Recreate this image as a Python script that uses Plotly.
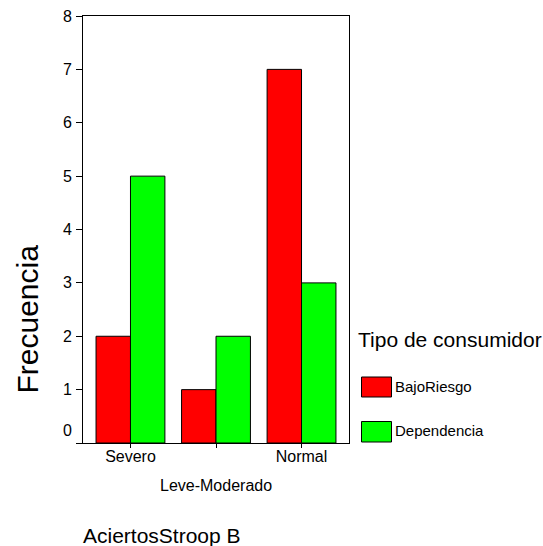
import plotly.graph_objects as go

categories = ["Severo", "Leve-Moderado", "Normal"]
series_names = ["BajoRiesgo", "Dependencia"]
bajo_riesgo = [2, 1, 7]
dependencia = [5, 2, 3]
y_ticks = [0, 1, 2, 3, 4, 5, 6, 7, 8]
colors = ["#FF0000", "#00FF00"]

FONT = "Liberation Sans, Arial, sans-serif"
W, H = 543, 546

# plot area in pixels
PX0, PX1, PY0, PY1 = 83, 349, 16, 443


def px(wx):
    return (wx - PX0) / (PX1 - PX0)


def py(wy):
    return (PY1 - wy) / (PY1 - PY0)


fig = go.Figure()
for name, vals, col in zip(series_names, [bajo_riesgo, dependencia], colors):
    fig.add_trace(go.Bar(
        x=list(range(len(categories))), y=vals, name=name,
        marker=dict(color=col, line=dict(color="black", width=1)),
        showlegend=False,
    ))

# staggered x tick labels: odd-index labels drawn lower
ticktext = [c if i % 2 == 0 else "" for i, c in enumerate(categories)]
for i, c in enumerate(categories):
    if i % 2 == 1:
        fig.add_annotation(x=i, y=py(485), xref="x", yref="paper", text=c, showarrow=False,
                           yanchor="middle", font=dict(size=16))

# y tick labels; the 0 label is lifted off the x axis
yticktext = ["" if v == 0 else str(v) for v in y_ticks]
fig.add_annotation(x=px(74), y=py(430), xref="paper", yref="paper", text=str(y_ticks[0]),
                   showarrow=False, xanchor="right", yanchor="middle", font=dict(size=16))

fig.update_layout(
    width=W, height=H,
    margin=dict(l=PX0, r=W - PX1, t=PY0, b=H - PY1),
    plot_bgcolor="white", paper_bgcolor="white",
    barmode="group", bargap=0.195, bargroupgap=0,
    font=dict(family=FONT, size=16, color="black"),
    xaxis=dict(
        range=[-0.555, 2.555], tickvals=list(range(len(categories))), ticktext=ticktext,
        showline=True, linecolor="black", linewidth=1, mirror=True, automargin=False,
        ticks="outside", ticklen=4, tickcolor="black", showgrid=False, zeroline=False,
        tickfont=dict(size=16), ticklabelstandoff=-5,
    ),
    yaxis=dict(
        range=[0, 8], tickvals=y_ticks, ticktext=yticktext,
        showline=True, linecolor="black", linewidth=1, mirror=True, automargin=False,
        ticks="outside", ticklen=6, tickcolor="black", showgrid=False, zeroline=False,
        tickfont=dict(size=16), ticklabelstandoff=1,
    ),
)

# y axis title
fig.add_annotation(x=px(26.5), y=py(319), xref="paper", yref="paper", text="Frecuencia",
                   showarrow=False, textangle=-90, xanchor="center", yanchor="middle",
                   font=dict(size=30))

# x axis title
fig.add_annotation(x=px(81), y=py(535), xref="paper", yref="paper", text="AciertosStroop B",
                   showarrow=False, xanchor="left", yanchor="middle", font=dict(size=21))

# legend drawn manually
fig.add_annotation(x=px(356), y=py(339), xref="paper", yref="paper", text="Tipo de consumidor",
                   showarrow=False, xanchor="left", yanchor="middle", font=dict(size=21))
legend_rows = [(377, 397), (421.5, 442)]
for (y0, y1), name, col in zip(legend_rows, series_names, colors):
    fig.add_shape(type="rect", xref="paper", yref="paper",
                  x0=px(361.5), x1=px(391.5), y0=py(y1), y1=py(y0),
                  fillcolor=col, line=dict(color="black", width=1))
    fig.add_annotation(x=px(393), y=py((y0 + y1) / 2 - 1), xref="paper", yref="paper", text=name,
                       showarrow=False, xanchor="left", yanchor="middle", font=dict(size=15))

fig.write_html("out.html", config={"displayModeBar": False},
               post_script="document.body.style.margin='0';document.body.style.overflow='hidden';")
